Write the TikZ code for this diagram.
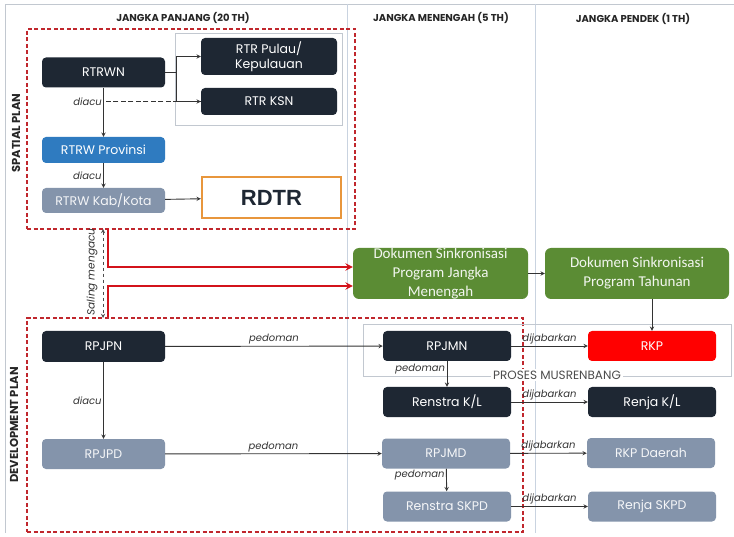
\documentclass[tikz,border=0pt]{standalone}
\usepackage{fontspec}
\setmainfont{Poppins}
\newfontfamily\calfont{Carlito}
\newfontfamily\arialfont{Liberation Sans}
\usepackage{xcolor}
\usepackage{tikz}
\usetikzlibrary{arrows,positioning,calc}

\definecolor{navy}{HTML}{1E2733}
\definecolor{provblue}{HTML}{2F7BC0}
\definecolor{slate}{HTML}{8494AB}
\definecolor{leaf}{HTML}{5B8C34}
\definecolor{frameline}{HTML}{C2C8D0}
\definecolor{colline}{HTML}{C9D3E0}
\definecolor{planred}{HTML}{C0272D}
\definecolor{linkred}{HTML}{D3131B}
\definecolor{rdtrorange}{HTML}{E8963C}

\begin{document}
\begin{tikzpicture}[
    x=1pt, y=-1pt,
    box/.style={rectangle, rounded corners=4pt, minimum width=123pt, minimum height=30pt, inner sep=0pt, align=center, text=white, font=\fontsize{12.5}{14.5}\selectfont},
    darkbox/.style={box, fill=navy},
    bluebox/.style={box, fill=provblue},
    greybox/.style={box, fill=slate, text=white!92!slate},
    rightbox/.style={minimum width=128pt},
    greenbox/.style={rectangle, rounded corners=6pt, fill=leaf, minimum height=51pt, inner sep=0pt, align=center, text=white!92!leaf, font=\calfont\fontsize{15}{19}\selectfont},
    planframe/.style={draw=planred, line width=1.4pt, dash pattern=on 4pt off 2.5pt, inner sep=0pt},
    thinframe/.style={draw=frameline, line width=0.6pt, inner sep=0pt},
    header/.style={font=\bfseries\fontsize{10}{12}\selectfont, text=black!85},
    sidelabel/.style={font=\bfseries\fontsize{11.5}{13}\selectfont, text=black!85, rotate=90},
    lbl/.style={font=\itshape\fontsize{10}{12}\selectfont, text=black!80, inner sep=1.5pt},
    arrow/.style={->, line width=0.9pt, draw=black!80, >=stealth},
    redarrow/.style={->, line width=2.2pt, draw=linkred, >=stealth},
]
    \useasboundingbox[fill=white] (0,0) rectangle (734,537);

    % Page frame and columns
    \draw[frameline, line width=0.8pt] (734,4) -- (5,4) -- (5,533);
    \draw[colline, line width=0.8pt] (347,4) -- (347,533);
    \draw[colline, line width=0.8pt] (535,4) -- (535,533);
    \node[header] (hpanjang) at (183,18) {JANGKA PANJANG (20 TH)};
    \node[header] (hmenengah) at (441,18) {JANGKA MENENGAH (5 TH)};
    \node[header] (hpendek) at (633,19) {JANGKA PENDEK (1 TH)};

    % Spatial plan
    \node[planframe, minimum width=328pt, minimum height=200pt] (spatial) at (191,129) {};
    \node[sidelabel] (spatlbl) at (16,133) {SPATIAL PLAN};
    \node[thinframe, minimum width=167pt, minimum height=92pt] (rtrgroup) at (258.5,79) {};
    \node[darkbox] (rtrwn) at (103.5,72.5) {RTRWN};
    \node[darkbox, minimum width=136pt, minimum height=37pt] (pulau) at (269,56.5) {RTR Pulau/\\Kepulauan};
    \node[darkbox, minimum width=136pt, minimum height=27pt] (ksn) at (269,101.5) {RTR KSN};
    \node[bluebox, minimum height=26pt] (prov) at (103.5,150) {RTRW Provinsi};
    \node[greybox, minimum height=25pt] (kab) at (103.5,200.5) {RTRW Kab/Kota};
    \node[draw=rdtrorange, line width=2.4pt, fill=white, minimum width=139pt, minimum height=41pt, inner sep=0pt,
          font=\arialfont\bfseries\fontsize{22}{24}\selectfont, text=navy] (rdtr) at (271.5,197.5) {RDTR};

    \coordinate (split) at (176,72.5);
    \coordinate (acu) at (rtrwn.south |- ksn.west);
    \draw[arrow, -] (rtrwn) -- (split);
    \draw[arrow] (split) |- (pulau);
    \draw[arrow] (split) |- (ksn);
    \draw[arrow] (rtrwn) -- (prov);
    \draw[arrow, -, dashed, dash pattern=on 5pt off 2.5pt, line width=1.3pt] (ksn) -- (acu);
    \node[lbl, left=0pt of acu] (acutxt) {diacu};
    \draw[arrow] (prov) -- node[lbl, left] {diacu} (kab);
    \draw[arrow] (kab) -- (rdtr);

    % Sync documents
    \node[greenbox, minimum width=175pt] (sinkmen) at (440.5,273.5) {Dokumen Sinkronisasi\\Program Jangka\\Menengah};
    \node[greenbox, minimum width=184pt] (sinktah) at (637,273.5) {Dokumen Sinkronisasi\\Program Tahunan};
    \draw[arrow] (sinkmen) -- (sinktah);

    \coordinate (sdown) at (108,229);
    \coordinate (dup) at (108,318);
    \coordinate (sacutop) at (103,229);
    \coordinate (sacubot) at (103,318);
    \draw[redarrow] (sdown) |- ([yshift=6.5pt]sinkmen.west);
    \draw[redarrow] (dup) |- ([yshift=-12.5pt]sinkmen.west);
    \draw[<->, >=stealth, dashed, line width=0.9pt, draw=black!70] (sacutop) -- (sacubot);
    \node[lbl, rotate=90, font=\itshape\fontsize{10.5}{12}\selectfont] (saling) at (92,272) {Saling mengacu};

    % Development plan
    \node[planframe, minimum width=496pt, minimum height=214pt] (devplan) at (275,425) {};
    \node[sidelabel] (devlbl) at (14,425) {DEVELOPMENT PLAN};
    \node[thinframe, minimum width=368pt, minimum height=52pt] (musren) at (547,350) {};
    \node[fill=white, inner sep=2pt, font=\fontsize{12}{14}\selectfont, text=black!70] (musrenlbl) at (557,375) {PROSES MUSRENBANG};

    \node[darkbox, minimum height=31pt] (rpjpn) at (103.5,346.5) {RPJPN};
    \node[greybox] (rpjpd) at (103.5,454) {RPJPD};
    \node[darkbox, rightbox] (rpjmn) at (447,346) {RPJMN};
    \node[box, rightbox, fill=red] (rkp) at (652,346) {RKP};
    \node[darkbox, rightbox] (renkl) at (447,402) {Renstra K/L};
    \node[darkbox, rightbox] (renjakl) at (652,402) {Renja K/L};
    \node[greybox, rightbox] (rpjmd) at (446,453.5) {RPJMD};
    \node[greybox, rightbox] (rkpd) at (651,453) {RKP Daerah};
    \node[greybox, rightbox] (renskpd) at (447,506.5) {Renstra SKPD};
    \node[greybox, rightbox] (renjaskpd) at (652,506.5) {Renja SKPD};

    % Arrows
    \draw[arrow] (rkp.north |- sinktah.south) -- (rkp);
    \draw[arrow] (rpjpn) -- node[lbl, above] {pedoman} (rpjmn);
    \draw[arrow] (rpjpn) -- node[lbl, left] {diacu} (rpjpd);
    \draw[arrow] (rpjpd) -- node[lbl, above] {pedoman} (rpjmd);
    \draw[arrow] (rpjmn) -- node[lbl, above] {dijabarkan} (rkp);
    \draw[arrow] (renkl) -- node[lbl, above] {dijabarkan} (renjakl);
    \draw[arrow] (rpjmd) -- node[lbl, above] {dijabarkan} (rkpd);
    \draw[arrow] (renskpd) -- node[lbl, above] {dijabarkan} (renjaskpd);
    \draw[arrow] (rpjmn) -- node[lbl, left, pos=0.3] {pedoman} (renkl);
    \draw[arrow] (rpjmd) -- node[lbl, left, pos=0.3] {pedoman} (renskpd);
\end{tikzpicture}
\end{document}
